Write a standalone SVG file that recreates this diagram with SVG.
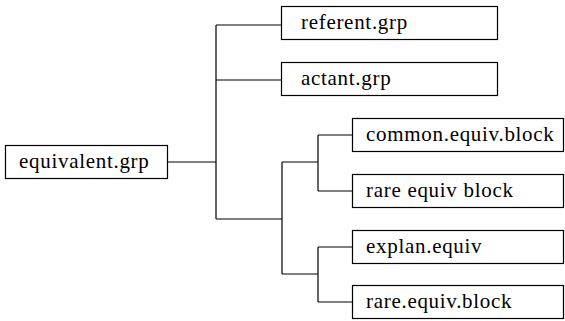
<svg xmlns="http://www.w3.org/2000/svg" width="565" height="321" viewBox="0 0 565 321">
<style>
.box{fill:#fff;stroke:#000;stroke-width:1.2}
.lbl{font-family:'Liberation Serif',serif;font-size:21px;letter-spacing:0.7px;fill:#000}
.conn{fill:none;stroke:#000;stroke-width:1.2}
</style>
<rect width="565" height="321" fill="#fff"/>
<g id="connectors">
<path class="conn" d="M167,162H216M216,25V219M216,25H281M216,80H281M216,219H282M282,162V274M282,162H318M318,135V191M318,135H352M318,191H352M282,274H318M318,247V302M318,247H352M318,302H352"/>
</g>
<g id="equivalent.grp"><rect class="box" x="5.5" y="145.5" width="162" height="33"/><text class="lbl" x="19" y="168">equivalent.grp</text></g>
<g id="referent.grp"><rect class="box" x="281.5" y="6.5" width="216" height="33"/><text class="lbl" x="301" y="29">referent.grp</text></g>
<g id="actant.grp"><rect class="box" x="281.5" y="62.5" width="216" height="33"/><text class="lbl" x="301" y="85">actant.grp</text></g>
<g id="common.equiv.block"><rect class="box" x="352.5" y="118.5" width="211" height="33"/><text class="lbl" x="366" y="141">common.equiv.block</text></g>
<g id="rare.equiv.block.1"><rect class="box" x="352.5" y="174.5" width="211" height="33"/><text class="lbl" x="366" y="197">rare equiv block</text></g>
<g id="explan.equiv"><rect class="box" x="352.5" y="230.5" width="211" height="33"/><text class="lbl" x="366" y="253">explan.equiv</text></g>
<g id="rare.equiv.block"><rect class="box" x="352.5" y="285.5" width="211" height="33"/><text class="lbl" x="366" y="308">rare.equiv.block</text></g>
</svg>
